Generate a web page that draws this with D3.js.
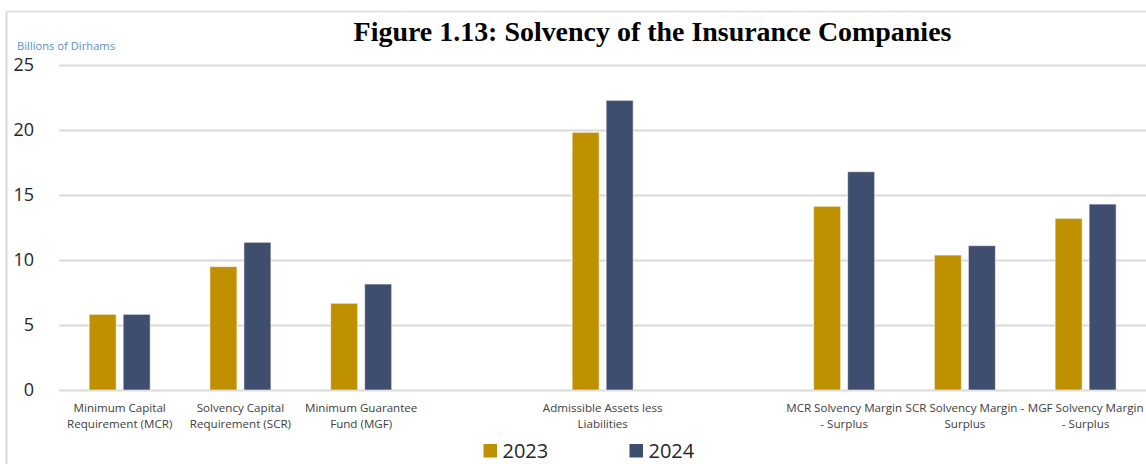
<!DOCTYPE html>
<html>
<head>
<meta charset="utf-8">
<script src="https://cdn.jsdelivr.net/npm/d3@7"></script>
<style>
  html, body { margin: 0; padding: 0; background: #fff; }
  svg { display: block; }
</style>
</head>
<body>
<svg id="chart" width="1146" height="464"></svg>
<script>
// ---- data ----
const title = "Figure 1.13: Solvency of the Insurance Companies";
const unitLabel = "Billions of Dirhams";
const categories = [
  "Minimum Capital\nRequirement (MCR)",
  "Solvency Capital\nRequirement (SCR)",
  "Minimum Guarantee\nFund (MGF)",
  "",
  "Admissible Assets less\nLiabilities",
  "",
  "MCR Solvency Margin\n- Surplus",
  "SCR Solvency Margin -\nSurplus",
  "MGF Solvency Margin\n- Surplus"
];
const seriesNames = ["2023", "2024"];
const values2023 = [5.82, 9.49, 6.67, null, 19.82, null, 14.13, 10.38, 13.2];
const values2024 = [5.82, 11.36, 8.15, null, 22.28, null, 16.79, 11.1, 14.3];
const yTicks = [0, 5, 10, 15, 20, 25];
const colors = ["#bf9000", "#3f4d6e"];

// ---- chart ----
const svg = d3.select("#chart");
const W = 1146, H = 464;
const font = "'Open Sans', 'Noto Sans', sans-serif";

// frame lines
svg.append("line").attr("x1", 6.5).attr("x2", 6.5).attr("y1", 11).attr("y2", H)
  .attr("stroke", "#d9d9d9").attr("stroke-width", 2);
svg.append("line").attr("x1", 6).attr("x2", W).attr("y1", 11.5).attr("y2", 11.5)
  .attr("stroke", "#d9d9d9").attr("stroke-width", 1.5);

const x0 = d3.scaleBand().domain(d3.range(categories.length)).range([59.3, 1146]).padding(0);
const x1 = d3.scaleBand().domain(seriesNames).range([-30.5, 30.5]).paddingInner(0.206).paddingOuter(0);
const y = d3.scaleLinear().domain([0, 25]).range([390, 65]);

// gridlines
const grid = svg.append("g")
  .call(d3.axisLeft(y).tickValues(yTicks).tickSize(-(1146 - 59.3)).tickFormat(""));
grid.attr("transform", "translate(59.3,0)");
grid.select(".domain").remove();
grid.selectAll(".tick line").attr("stroke", "#d9d9d9").attr("stroke-width", 2);

// y tick labels
const yAxis = svg.append("g").attr("transform", "translate(34,0)")
  .call(d3.axisLeft(y).tickValues(yTicks).tickSize(0).tickPadding(0));
yAxis.select(".domain").remove();
yAxis.selectAll("text").attr("font-family", font).attr("font-size", 18).attr("fill", "#262626");

// bars
const seriesValues = [values2023, values2024];
const barData = [];
categories.forEach((c, i) => {
  seriesNames.forEach((s, j) => {
    const v = seriesValues[j][i];
    if (v != null) barData.push({ i, s, j, v });
  });
});
svg.append("g").selectAll("rect").data(barData).join("rect")
  .attr("x", d => x0(d.i) + x0.bandwidth() / 2 + x1(d.s))
  .attr("width", x1.bandwidth())
  .attr("y", d => y(d.v))
  .attr("height", d => y(0) - y(d.v))
  .attr("fill", d => colors[d.j])
  .attr("stroke", "rgba(255,255,255,0.55)")
  .attr("stroke-width", 1);

// x axis labels
const xAxis = svg.append("g").attr("transform", "translate(0,392)")
  .call(d3.axisBottom(x0).tickSize(0).tickFormat(""));
xAxis.select(".domain").remove();
xAxis.selectAll(".tick").each(function(d) {
  const lines = categories[d] ? categories[d].split("\n") : [];
  const t = d3.select(this).append("text")
    .attr("fill", "#404040").attr("font-family", font).attr("font-size", 11.6)
    .attr("text-anchor", "middle");
  lines.forEach((ln, k) => {
    t.append("tspan").attr("x", 0).attr("y", 19.5 + k * 16.7).text(ln);
  });
});

// unit label
svg.append("text").attr("x", 17).attr("y", 50).text(unitLabel)
  .attr("font-family", font).attr("font-size", 11.2).attr("fill", "#5b8fd0");

// title
const tt = svg.append("text").attr("x", 652.5).attr("y", 41).attr("text-anchor", "middle")
  .attr("font-family", "'Liberation Serif', 'Times New Roman', serif")
  .attr("font-weight", "bold").attr("font-size", 24).attr("fill", "#000").text(title);
const len = tt.node().getComputedTextLength();
tt.attr("font-size", 24 * 598 / len);

// legend
const legendX = [483.5, 629.5];
const lg = svg.append("g").selectAll("g").data(seriesNames).join("g")
  .attr("transform", (d, i) => `translate(${legendX[i]},444)`);
lg.append("rect").attr("width", 13.5).attr("height", 13.5).attr("fill", (d, i) => colors[i]);
lg.append("text").attr("x", 19).attr("y", 13.5).text(d => d)
  .attr("font-family", font).attr("font-size", 20).attr("fill", "#262626");
</script>
</body>
</html>
